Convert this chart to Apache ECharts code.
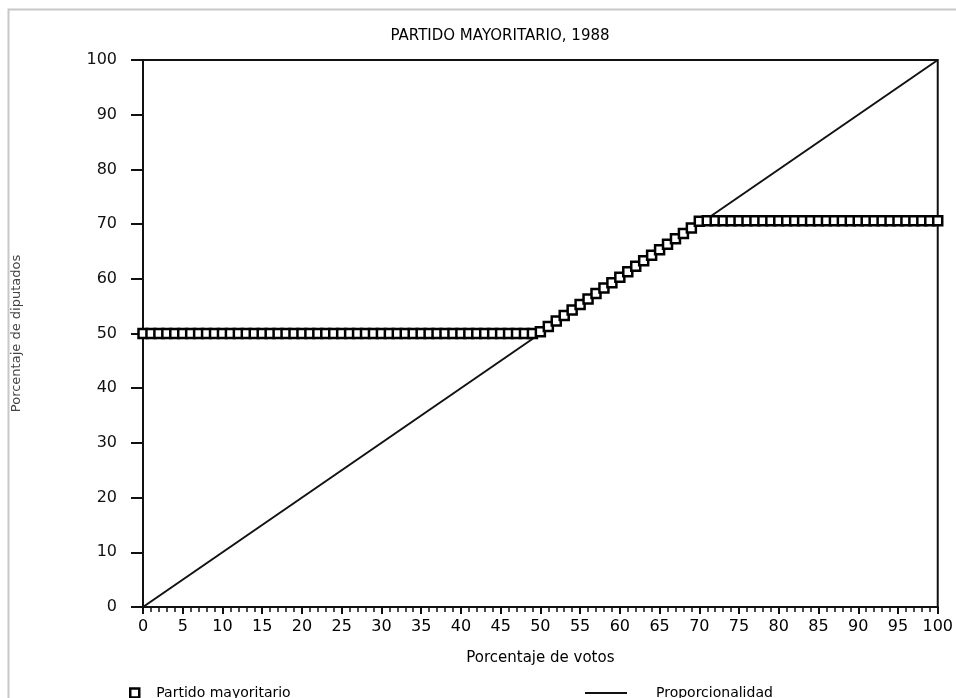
<!DOCTYPE html>
<html>
<head>
<meta charset="utf-8">
<script src="https://cdn.jsdelivr.net/npm/echarts@6/dist/echarts.min.js"></script>
<style>html,body{margin:0;padding:0;background:#fff;}#c{width:956px;height:698px;}</style>
</head>
<body>
<div id="c"></div>
<script>
var titleText = 'PARTIDO MAYORITARIO, 1988';
var xName = 'Porcentaje de votos';
var yName = 'Porcentaje de diputados';
var seriesNames = ['Partido mayoritario', 'Proporcionalidad'];
// Partido mayoritario: % of seats per % of votes (one point per integer vote share)
var votos = [0,1,2,3,4,5,6,7,8,9,10,11,12,13,14,15,16,17,18,19,20,21,22,23,24,25,26,27,28,29,30,31,32,33,34,35,36,37,38,39,40,41,42,43,44,45,46,47,48,49,50,51,52,53,54,55,56,57,58,59,60,61,62,63,64,65,66,67,68,69,70,71,72,73,74,75,76,77,78,79,80,81,82,83,84,85,86,87,88,89,90,91,92,93,94,95,96,97,98,99,100];
var diputados = [50,50,50,50,50,50,50,50,50,50,50,50,50,50,50,50,50,50,50,50,50,50,50,50,50,50,50,50,50,50,50,50,50,50,50,50,50,50,50,50,50,50,50,50,50,50,50,50,50,50,50.3,51.3,52.3,53.3,54.3,55.3,56.3,57.3,58.3,59.3,60.3,61.3,62.3,63.3,64.3,65.3,66.3,67.3,68.3,69.3,70.5,70.6,70.6,70.6,70.6,70.6,70.6,70.6,70.6,70.6,70.6,70.6,70.6,70.6,70.6,70.6,70.6,70.6,70.6,70.6,70.6,70.6,70.6,70.6,70.6,70.6,70.6,70.6,70.6,70.6,70.6];
var propX = [0, 100];
var propY = [0, 100];

var font = 'DejaVu Sans';
var chart = echarts.init(document.getElementById('c'));
var pts = votos.map(function(v,i){return [v, diputados[i]];});
var prop = propX.map(function(v,i){return [v, propY[i]];});
chart.setOption({
  animation: false,
  backgroundColor: '#fff',
  title: {text: titleText, left: 495, textAlign: 'center', top: 24,
    textStyle: {fontFamily: font, fontSize: 15, fontWeight: 'normal', color: '#000'}},
  grid: {left: 143, right: 18, top: 60, bottom: 91, show: true, borderColor: '#111', borderWidth: 2, backgroundColor: 'transparent'},
  legend: [
    {left: 124, top: 681, itemWidth: 9, itemHeight: 9, itemGap: 0,
      textStyle: {fontFamily: font, fontSize: 14, color: '#000', padding: [0,0,0,12]},
      data: [{name: seriesNames[0], icon: 'rect', itemStyle: {color: '#fff', borderColor: '#000', borderWidth: 2.5}}]},
    {left: 580, top: 681, itemWidth: 42, itemHeight: 2,
      textStyle: {fontFamily: font, fontSize: 14, color: '#000', padding: [0,0,0,24]},
      data: [{name: seriesNames[1], icon: 'rect', itemStyle: {color: '#111'}}]}
  ],
  xAxis: {type: 'value', min: 0, max: 100, interval: 5,
    name: xName, nameLocation: 'middle', nameGap: 44,
    nameTextStyle: {fontFamily: font, fontSize: 15, color: '#000'},
    axisLine: {show: true, lineStyle: {color: '#111', width: 2}},
    axisTick: {show: true, inside: false, length: 7, lineStyle: {color: '#111', width: 2}},
    minorTick: {show: true, splitNumber: 5, length: 5, lineStyle: {color: '#111', width: 1.5}},
    axisLabel: {fontFamily: font, fontSize: 16, color: '#000', margin: 12},
    splitLine: {show: false}},
  yAxis: {type: 'value', min: 0, max: 100, interval: 10,
    name: yName, nameLocation: 'middle', nameGap: 120, nameRotate: 90,
    nameTextStyle: {fontFamily: font, fontSize: 13, color: '#444'},
    axisLine: {show: true, lineStyle: {color: '#111', width: 2}},
    axisTick: {show: true, inside: false, length: 12, lineStyle: {color: '#111', width: 2}},
    axisLabel: {fontFamily: font, fontSize: 16, color: '#111', margin: 26},
    splitLine: {show: false}},
  series: [
    {name: seriesNames[0], type: 'line', data: pts, symbol: 'rect', symbolSize: 9, showSymbol: true,
      lineStyle: {width: 0, opacity: 0},
      itemStyle: {color: '#fff', borderColor: '#000', borderWidth: 2.5}, z: 3},
    {name: seriesNames[1], type: 'line', data: prop, symbol: 'none',
      lineStyle: {color: '#111', width: 2}, z: 2}
  ],
  graphic: [
    {type: 'polyline', silent: true, shape: {points: [[8.5, 698], [8.5, 9.5], [956, 9.5]]},
      style: {stroke: '#c8c8c8', lineWidth: 2, fill: null}}
  ]
});
</script>
</body>
</html>
